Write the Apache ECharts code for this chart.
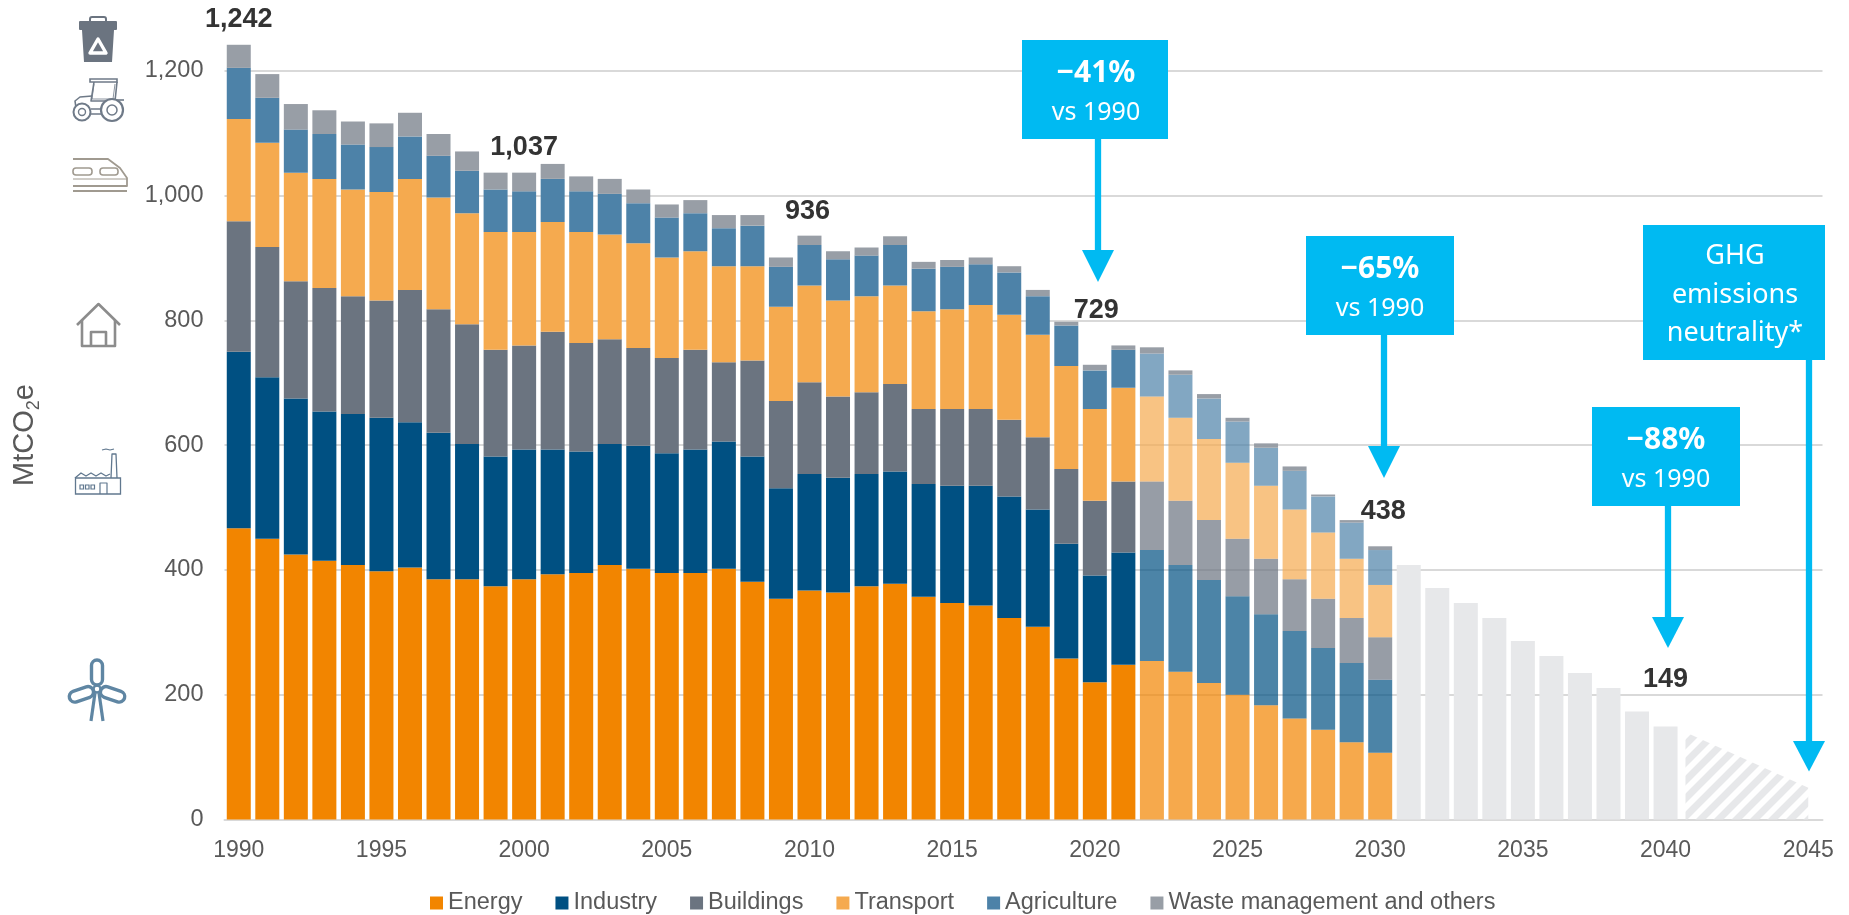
<!DOCTYPE html>
<html><head><meta charset="utf-8">
<style>html,body{margin:0;padding:0;background:#fff}#c{width:1849px;height:915px}</style>
<script src="https://cdn.jsdelivr.net/npm/echarts@6/dist/echarts.min.js"></script>
</head><body><div id="c"></div>
<script>
const years = ['1990','1991','1992','1993','1994','1995','1996','1997','1998','1999','2000','2001','2002','2003','2004','2005','2006','2007','2008','2009','2010','2011','2012','2013','2014','2015','2016','2017','2018','2019','2020','2021','2022','2023','2024','2025','2026','2027','2028','2029','2030','2031','2032','2033','2034','2035','2036','2037','2038','2039','2040','2041','2042','2043','2044','2045'];
const energy = [467,450,425,415,408,398,404,385,385,374,385,393,395,408,402,395,395,402,381,354,367,364,374,378,357,347,343,323,309,258,220,248,254,237,219,200,183,162,144,124,107];
const industry = [283,259,250,239,242,246,233,235,217,208,208,200,195,194,197,192,198,204,201,177,187,184,180,180,181,188,192,195,188,184,171,180,178,171,165,158,146,140,131,127,117];
const buildings = [209,209,188,198,189,188,212,198,192,171,167,189,174,168,157,153,160,127,154,140,147,130,131,140,120,123,123,123,116,120,120,114,110,103,96,92,89,83,79,72,68];
const transport = [164,167,174,175,171,174,178,179,178,189,182,176,178,168,168,161,158,154,151,151,155,154,154,158,157,160,167,168,164,165,147,150,136,133,130,122,117,112,106,95,84];
const agriculture = [82,72,69,72,72,72,68,67,68,68,65,69,65,65,64,64,61,61,65,64,65,66,65,65,68,68,65,68,62,65,62,61,69,69,65,66,61,62,58,58,56];
const waste = [37,38,41,38,37,38,38,35,31,27,30,24,24,24,22,21,21,21,17,15,15,13,13,14,11,11,11,10,10,6,9,7,10,7,7,6,7,7,3,4,6];
const targetYears = ['2031','2032','2033','2034','2035','2036','2037','2038','2039','2040'];
const targetValues = [408,371,347,323,286,262,235,211,173,149];
const wedgeYears = ['2041','2045'];
const wedgeValues = [140,51];
const totalYears = ['1990','2000','2010','2020','2030','2040'];
const totalValues = [1242,1037,936,729,438,149];
const totalOffsets = [[0,-25],[0,-25],[-2,-24],[1.5,-54],[3,-34.5],[0,-47]];
const seriesNames = ['Energy','Industry','Buildings','Transport','Agriculture','Waste management and others'];
const seriesColors = ['#F28500','#005082','#6B7480','#F5AA4F','#4D82A8','#989EA6'];
const seriesValues = [energy,industry,buildings,transport,agriculture,waste];
const firstOutlookYear = '2022';

const AXIS_GREY='#D9D9D9', TXT='#595959', CALLOUT='#00BAF2';
const outlookIdx = years.indexOf(firstOutlookYear);

function stripeTile(){
  const s=18, c=document.createElement('canvas'); c.width=s; c.height=s;
  const g=c.getContext('2d'); g.strokeStyle='#E7E8EA'; g.lineWidth=7; g.lineCap='square';
  [[-s,s,s,-s],[0,s,s,0],[0,2*s,2*s,0]].forEach(l=>{g.beginPath();g.moveTo(l[0],l[1]);g.lineTo(l[2],l[3]);g.stroke();});
  return c;
}
const tile = stripeTile();

const series = seriesNames.map((n,k)=>({
  name:n,type:'bar',stack:'t',barWidth:24,color:seriesColors[k],
  data:seriesValues[k].map((v,i)=>(i>=outlookIdx&&k<5)?{value:v,itemStyle:{opacity:0.7}}:v),
  animation:false
}));
series.push({
  name:'Target',type:'bar',stack:'t',barWidth:24,color:'#E7E8EA',animation:false,
  data:years.map(y=>{const i=targetYears.indexOf(y);return i<0?null:targetValues[i];})
});
series.push({
  name:'Neutrality',type:'custom',animation:false,silent:true,z:1,
  data:[[wedgeYears[0],wedgeValues[0]]],
  renderItem(p,api){
    const ia=years.indexOf(wedgeYears[0]), ib=years.indexOf(wedgeYears[1]);
    const band=api.size([1,0])[0];
    const a=api.coord([ia,wedgeValues[0]]), b=api.coord([ib,wedgeValues[1]]);
    const a0=api.coord([ia,0]), b0=api.coord([ib,0]);
    const off=band*0.3;
    return {type:'polygon',shape:{points:[[a[0]-off,a[1]],[b[0],b[1]],[b0[0],b0[1]],[a0[0]-off,a0[1]]]},
      style:{fill:{image:tile,repeat:'repeat'}}};
  }
});
series.push({
  name:'Totals',type:'scatter',symbolSize:0,animation:false,silent:true,z:8,
  itemStyle:{opacity:1},
  data:totalYears.map((y,i)=>({value:[y,totalValues[i]],label:{offset:totalOffsets[i]}})),
  label:{show:true,position:'inside',opacity:1,fontFamily:'Liberation Sans',fontWeight:'bold',fontSize:27,color:'#333333',textBorderWidth:0,
    formatter:p=>p.value[1].toLocaleString('en-US')}
});

/* ---- annotation helpers ---- */
const g=[];
function box(x0,x1,y0,y1){g.push({type:'rect',z:20,shape:{x:x0,y:y0,width:x1-x0,height:y1-y0},style:{fill:CALLOUT}});}
function arrow(cx,y0,yb,yt,sw,hw){
  g.push({type:'rect',z:20,shape:{x:cx-sw/2,y:y0,width:sw,height:yb-y0},style:{fill:CALLOUT}});
  g.push({type:'polygon',z:20,shape:{points:[[cx-hw,yb],[cx+hw,yb],[cx,yt]]},style:{fill:CALLOUT}});
}
function txt(t,x,y,size,w){g.push({type:'text',z:21,style:{text:t,x,y,align:'center',verticalAlign:'middle',fontFamily:'Noto Sans',fontSize:size,fontWeight:w||'normal',fill:'#fff'}});}
function callout(x0,x1,y0,y1,tx,big,small,cx,yb,yt){
  box(x0,x1,y0,y1);
  arrow(cx,y1,yb,yt,6.3,16);
  txt(big,tx,y0+33,30,'bold');
  txt(small,tx,y0+73,25);
}
callout(1022,1168,40,139,1096,'\u221241%','vs 1990',1098,250,282);
callout(1306,1454,236,335,1380,'\u221265%','vs 1990',1384,446,478);
callout(1592,1740,407,506,1666,'\u221288%','vs 1990',1668,617,648);
box(1643,1825,225,360);
arrow(1809,360,741,771.5,6.3,16);
txt('GHG',1735,256,27); txt('emissions',1735,295,27); txt('neutrality*',1735,333,27);

/* y axis title */
g.push({type:'text',z:5,x:25,y:435,rotation:Math.PI/2,originX:0,originY:0,style:{
  text:'{a|MtCO}{b|2}{a|e}',x:0,y:0,align:'center',verticalAlign:'middle',
  rich:{a:{fontFamily:'Liberation Sans',fontSize:29,fill:TXT,verticalAlign:'bottom'},
        b:{fontFamily:'Liberation Sans',fontSize:18,fill:TXT,verticalAlign:'bottom',padding:[0,0,-4,0]}}
}});

/* icons */
function pl(pts,c,lw,fill){g.push({type:fill?'polygon':'polyline',z:5,shape:{points:pts},style:fill?{fill:c}:{stroke:c,lineWidth:lw,fill:null,lineJoin:'round'}});}
function pg(pts,c,lw){g.push({type:'polygon',z:6,shape:{points:pts},style:{stroke:c,lineWidth:lw,fill:null,lineJoin:'round'}});}
function rc(x,y,w,h,c,lw,r,fill){g.push({type:'rect',z:5,shape:{x,y,width:w,height:h,r:r||0},style:fill?{fill:c}:{stroke:c,lineWidth:lw,fill:null}});}
function ci(x,y,r,c,lw,fill){g.push({type:'circle',z:5,shape:{cx:x,cy:y,r},style:{stroke:c,lineWidth:lw,fill:fill||null}});}
const C1='#6B7480';
/* bin */
rc(90,17,16,7,C1,2,2);
rc(79,21,38,9,C1,0,1,true);
pl([[82,30],[114,30],[112,62],[84,62]],C1,0,true);
pg([[98,39],[106,53],[90,53]],'#fff',3.4);
/* tractor */
const T='#6F7A88';
rc(90,79,27,3,T,1.6);
pl([[94,82],[91,101],[115,101],[117,82]],T,1.6);
pl([[94,84],[92,99],[113,99],[115,84]],T,0.8);
pl([[76,108],[75,101],[80,97],[92,96]],T,1.6);
pl([[113,100],[124,100]],T,1.6);
pl([[91,109],[102,109],[102,114],[91,114]],T,1.6);
ci(82,112,8.5,T,2,'#fff'); ci(82,112,3.5,T,1.4);
ci(112,110,11,T,2.2,'#fff');  ci(112,110,5,T,1.5);
/* train */
const Tr='#A09A90';
pl([[73,159],[108,159],[120,168],[127,178],[127,186],[73,186]],Tr,1.8);
rc(73,168,19,7,Tr,1.6,3);
rc(100,168,18,7,Tr,1.6,3);
pl([[73,179],[127,179]],Tr,1);
pl([[73,191],[127,191]],Tr,2);
/* house */
const H='#8C8C8C';
pl([[77,325],[98.5,304],[120,325]],H,2.6);
pl([[82,320],[82,346],[115,346],[115,320]],H,2.6);
pl([[91,346],[91,332],[106,332],[106,346]],H,2.6);
/* factory */
const F='#61788F';
rc(75.5,478,45,16,F,1.3);
pl([[75,478],[81,473],[86,476],[91,473],[96,476],[101,473],[106,476],[110,474]],F,1.3);
pl([[111,478],[112,454],[116,454],[117,478]],F,1.3);
pl([[102,450],[106,449],[110,450],[114,449]],F,1.2);
rc(80,485,3.5,4,F,1.2); rc(85.5,485,3.5,4,F,1.2); rc(91,485,3.5,4,F,1.2);
pl([[100,494],[100,483],[107,483],[107,494]],F,1.2);
/* turbine */
const W='#5F86A3';
const hub=[97,689];
[0,1.9,-1.9].forEach(a=>g.push({type:'rect',z:5,x:hub[0],y:hub[1],rotation:a,originX:0,originY:0,
  shape:{x:-5.5,y:-29,width:11,height:25,r:5.5},style:{stroke:W,lineWidth:3.4,fill:null}}));
ci(hub[0],hub[1],3.5,W,2.5);
pl([[95,693],[91,721]],W,3.2);
pl([[99,693],[103,721]],W,3.2);

const chart=echarts.init(document.getElementById('c'),null,{renderer:'canvas'});
chart.setOption({
  animation:false,
  backgroundColor:'#fff',
  grid:{left:224.5,top:8.6,width:1598,height:810.9},
  legend:{
    left:425,top:886,itemWidth:13,itemHeight:13,itemGap:33,icon:'rect',
    data:seriesNames,
    textStyle:{fontFamily:'Liberation Sans',fontSize:23.5,color:TXT}
  },
  xAxis:{type:'category',data:years,
    axisTick:{show:false},
    axisLine:{lineStyle:{color:AXIS_GREY,width:2}},
    axisLabel:{interval:4,margin:20,fontFamily:'Liberation Sans',fontSize:23,color:TXT},
    splitLine:{show:false}},
  yAxis:{type:'value',min:0,max:1300,interval:200,
    axisLine:{show:false},axisTick:{show:false},
    axisLabel:{margin:21,fontFamily:'Liberation Sans',fontSize:23.5,color:TXT,showMaxLabel:false,padding:[4,0,0,0]},
    splitLine:{show:true,showMaxLine:false,lineStyle:{color:AXIS_GREY,width:2}}},
  series,
  graphic:{elements:g}
});
</script></body></html>
